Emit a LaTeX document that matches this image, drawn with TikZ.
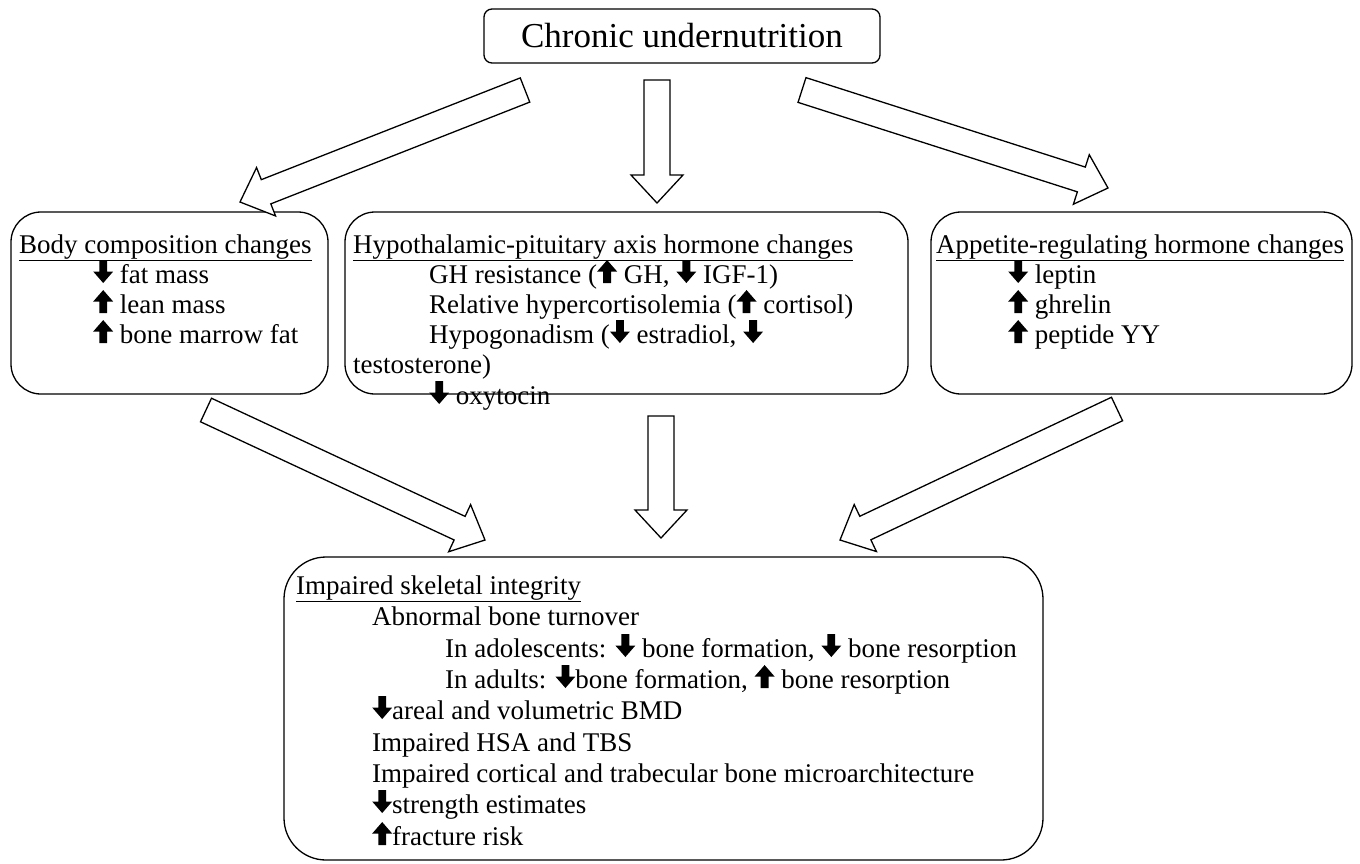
\documentclass[tikz,border=0pt]{standalone}
\usepackage{fontspec}
\setmainfont{Liberation Serif}
\usepackage{tikz}
\usetikzlibrary{shapes,positioning,calc}
\usetikzlibrary{arrows.meta}
% small solid up/down arrows used inside the text
\newcommand{\dn}{\tikz[baseline=0pt, x=1.35pt, y=1.35pt] \fill (-2.9,17) -- (2.9,17) -- (2.9,8.5) -- (7.4,8.5) -- (0,0) -- (-7.4,8.5) -- (-2.9,8.5) -- cycle;}
\newcommand{\up}{\tikz[baseline=0pt, x=1.35pt, y=1.35pt] \fill (-2.9,0) -- (2.9,0) -- (2.9,8.5) -- (7.4,8.5) -- (0,17) -- (-7.4,8.5) -- (-2.9,8.5) -- cycle;}
\tikzstyle{topbox} = [rectangle, rounded corners=8pt, minimum width=396pt, minimum height=54pt, text centered, draw=black, line width=1.3pt, font=\fontsize{35}{40}\selectfont]
\tikzstyle{panel} = [rectangle, rounded corners=30pt, draw=black, line width=1.3pt]
\tikzstyle{item} = [anchor=base west, inner sep=0pt, font=\fontsize{27}{30}\selectfont]
\tikzstyle{fat} = [draw=black, fill=white, line width=1.3pt, line join=miter]
% hollow block arrow from #1 to #2
\newcommand{\fatarrow}[2]{%
  \coordinate (#2-h) at ($(#2)!28pt!(#1)$);
  \draw[fat] ($(#1)!13pt!90:(#2)$) -- ($(#2-h)!13pt!-90:(#1)$) -- ($(#2-h)!26pt!-90:(#1)$) -- (#2)
    -- ($(#2-h)!26pt!90:(#1)$) -- ($(#2-h)!13pt!90:(#1)$) -- ($(#1)!13pt!-90:(#2)$) -- cycle;}

\begin{document}
\begin{tikzpicture}[x=1pt, y=-1pt]
\useasboundingbox[fill=white] (0,0) rectangle (1360,863);
\node[topbox] (cu) at (682,36) {Chronic undernutrition};
\node[panel, minimum width=317pt, minimum height=182pt] (body) at (169.5,303) {};
\node[panel, minimum width=563pt, minimum height=182pt] (hpa) at (626.5,303) {};
\node[panel, minimum width=421pt, minimum height=182pt] (app) at (1141.5,303) {};
\node[panel, rounded corners=42pt, minimum width=759pt, minimum height=303pt] (skel) at (663.5,708.5) {};

% arrows
\coordinate (a1s) at (525,90);
\coordinate (a1e) at (240,202);
\coordinate (a2s) at (657,80);
\coordinate (a2e) at (657,203);
\coordinate (a3s) at (802,90);
\coordinate (a3e) at (1108,188);
\coordinate (a4s) at (206,410);
\coordinate (a4e) at (485,540);
\coordinate (a5s) at (661,416);
\coordinate (a5e) at (661,538);
\coordinate (a6s) at (1117,409);
\coordinate (a6e) at (840,540);
\fatarrow{a1s}{a1e}
\fatarrow{a2s}{a2e}
\fatarrow{a3s}{a3e}
\fatarrow{a4s}{a4e}
\fatarrow{a5s}{a5e}
\fatarrow{a6s}{a6e}

% body composition
\node[item] (b1t) at (19,253) {\underline{Body composition changes}};
\node[item] (b1a) at (93,283) {\dn{} fat mass};
\node[item] (b1b) at (93,313) {\up{} lean mass};
\node[item] (b1c) at (93,343) {\up{} bone marrow fat};

% hypothalamic-pituitary
\node[item] (b2t) at (353,253) {\underline{Hypothalamic-pituitary axis hormone changes}};
\node[item] (b2a) at (429,283) {GH resistance (\up{} GH, \dn{} IGF-1)};
\node[item] (b2b) at (429,313) {Relative hypercortisolemia (\up{} cortisol)};
\node[item] (b2c) at (429,343) {Hypogonadism (\dn{} estradiol, \dn{}};
\node[item] (b2d) at (353,373) {testosterone)};
\node[item] (b2e) at (429,404) {\dn{} oxytocin};

% appetite
\node[item] (b3t) at (936,253) {\underline{Appetite-regulating hormone changes}};
\node[item] (b3a) at (1008,283) {\dn{} leptin};
\node[item] (b3b) at (1008,313) {\up{} ghrelin};
\node[item] (b3c) at (1008,343) {\up{} peptide YY};

% skeletal integrity
\node[item] (b4t) at (296,594) {\underline{Impaired skeletal integrity}};
\node[item] (b4a) at (372,625) {Abnormal bone turnover};
\node[item] (b4b) at (445,657) {In adolescents: \dn{} bone formation, \dn{} bone resorption};
\node[item] (b4c) at (445,688) {In adults: \dn{}bone formation, \up{} bone resorption};
\node[item] (b4d) at (372,719) {\dn{}areal and volumetric BMD};
\node[item] (b4e) at (372,751) {Impaired HSA and TBS};
\node[item] (b4f) at (372,782) {Impaired cortical and trabecular bone microarchitecture};
\node[item] (b4g) at (372,813) {\dn{}strength estimates};
\node[item] (b4h) at (372,845) {\up{}fracture risk};
\end{tikzpicture}
\end{document}
